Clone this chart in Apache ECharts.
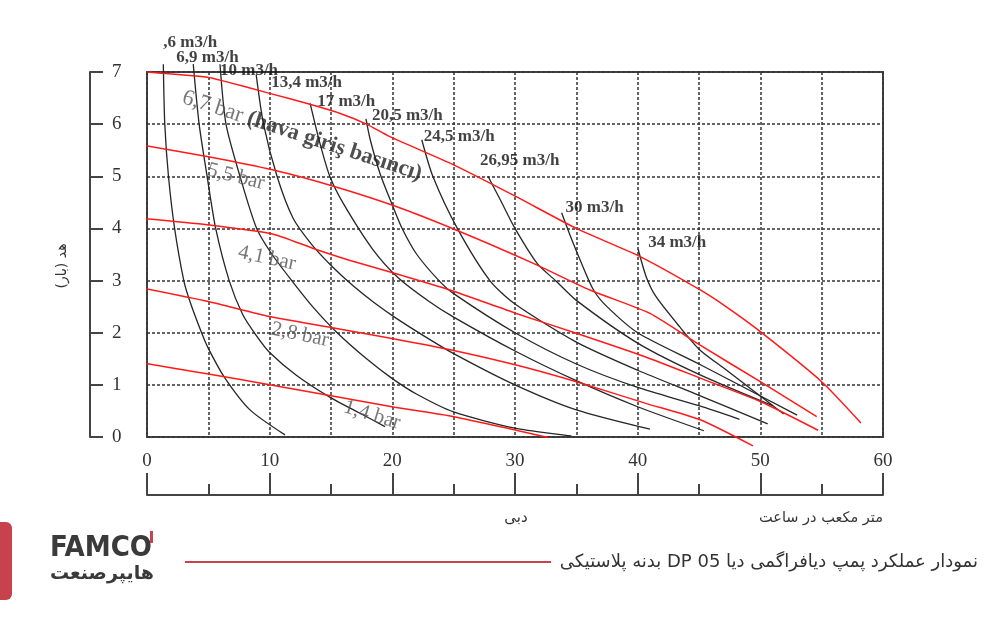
<!DOCTYPE html>
<html><head><meta charset="utf-8">
<script src="https://cdn.jsdelivr.net/npm/echarts/dist/echarts.min.js"></script>
<style>html,body{margin:0;padding:0;background:#fff}#c{width:1000px;height:620px}</style>
</head><body><div id="c"></div>
<script>
// ---- data ----
const xTicks = [0, 10, 20, 30, 40, 50, 60];
const yTicks = [0, 1, 2, 3, 4, 5, 6, 7];
const pressureNames = ['6,7 bar', '5,5 bar', '4,1 bar', '2,8 bar', '1,4 bar'];
const p67 = [[0,7.0],[4.9,6.9],[6.2,6.83],[10,6.59],[13,6.4],[15.7,6.21],[17.9,6.0],[19.8,5.76],[25,5.22],[30.1,4.61],[35,4.0],[40.2,3.46],[45.1,2.82],[47.2,2.5],[50,2.02],[55,1.06],[58.2,0.27]];
const p55 = [[-0.4,5.6],[4.9,5.38],[10.3,5.12],[15.2,4.81],[20.2,4.43],[25.2,3.97],[31.5,3.33],[36.1,2.82],[41,2.37],[45.1,1.76],[50,1.06],[54.6,0.39]];
const p41 = [[-0.8,4.2],[4.9,4.07],[10.3,3.89],[13.5,3.62],[16.5,3.39],[20.6,3.11],[24.7,2.82],[30.1,2.37],[35,1.99],[40.6,1.54],[45.1,1.13],[50,0.68],[54.7,0.13]];
const p28 = [[-0.2,2.85],[5,2.6],[10,2.31],[15,2.1],[20.2,1.88],[25,1.66],[30.1,1.38],[35,1.06],[40.6,0.65],[45.1,0.33],[49.4,-0.17]];
const p14 = [[-0.4,1.42],[5,1.21],[10,1.0],[15,0.79],[20.2,0.57],[25,0.39],[30.1,0.13],[32.7,-0.01]];

const flowNames = [',6 m3/h', '6,9 m3/h', '10 m3/h', '13,4 m3/h', '17 m3/h', '20,5 m3/h', '24,5 m3/h', '26,95 m3/h', '30 m3/h', '34 m3/h'];
const f36 = [[1.33,7.15],[1.45,6],[1.75,5],[2.25,4],[3.0,3],[3.5,2.6],[4.45,2],[5.0,1.7],[6.3,1.15],[8.4,0.52],[11.25,0.04]];
const f69 = [[3.77,7.15],[4.25,6],[4.9,5],[5.6,4],[6.7,3],[7.8,2.35],[8.9,1.95],[10,1.62],[12.2,1.18],[15,0.75],[17.4,0.45],[19.4,0.2]];
const f10 = [[5.95,7.15],[6.44,6],[7.58,5],[8.94,4],[10.2,3.5],[11.8,3.0],[13.5,2.5],[15.5,2.0],[17.9,1.5],[20,1.12],[22,0.82],[25,0.48],[30,0.17],[34.6,0.02]];
const f134 = [[8.9,6.95],[9.5,6],[10.6,5],[11.9,4.2],[13.4,3.7],[15.05,3.28],[16.8,2.9],[18.5,2.58],[20.3,2.28],[22.5,1.95],[25,1.6],[30,1.0],[35,0.52],[41,0.15]];
const f17 = [[13.3,6.4],[14.1,5.63],[14.9,5.0],[16,4.48],[18.4,3.6],[20.5,3.05],[23,2.6],[25,2.3],[30,1.65],[35,1.08],[40,0.58],[45.4,0.12]];
const f205 = [[17.85,6.1],[18.2,5.7],[19,5.05],[20.0,4.45],[20.8,4.0],[22,3.5],[23.8,3.0],[25,2.75],[30,2.0],[35,1.4],[40,0.95],[45,0.6],[48.3,0.34]];
const f245 = [[22.4,5.7],[23.3,5.0],[25.3,4.0],[27.95,3.0],[30,2.55],[35,1.82],[40,1.28],[45,0.8],[50.6,0.25]];
const f2695 = [[27.8,5.0],[28.8,4.55],[30,4.0],[31.8,3.33],[33.3,3.0],[35,2.62],[40,1.8],[45,1.2],[51,0.6]];
const f30 = [[33.8,4.3],[34.6,3.8],[35.3,3.4],[36.4,2.82],[37.5,2.5],[40,2.0],[45,1.4],[53,0.42]];
const f34 = [[40.04,3.6],[40.7,3.07],[41.5,2.69],[43.4,2.12],[45.07,1.67],[47.2,1.29],[49.7,0.84],[51.9,0.44]];

const pressureLabelPos = [[2.93,6.52],[7.25,4.99],[9.78,3.43],[12.47,1.96],[18.34,0.42]];

const xName1 = 'دبی';
const xName2 = 'متر مکعب در ساعت';
const yName = 'هد (بار)';
const title = 'نمودار عملکرد پمپ دیافراگمی دیا DP 05 بدنه پلاستیکی';

// ---- chart ----
const chart = echarts.init(document.getElementById('c'), null, {renderer: 'canvas'});
const SERIF = '"Liberation Serif", "DejaVu Serif", serif';
const FA = '"DejaVu Sans", sans-serif';
const pressures = [p67, p55, p41, p28, p14];
const flows = [f36, f69, f10, f134, f17, f205, f245, f2695, f30, f34];
const flowLabelOffset = [[0,-22],[-17,-7],[0,6],[15,8],[7,-2],[6,-3],[2,-3],[-8,-16],[4,-5],[10,-7]];
const pressureLabelRot = [-18, -14, -12, -12, -17];
const gridDash = {color: '#333', width: 1.5, type: [3, 2]};

const series = [];
pressures.forEach((d, i) => series.push({
  type: 'line', name: pressureNames[i], data: d, showSymbol: false, symbol: 'none', clip: false,
  smooth: 0.2, lineStyle: {color: '#ff1a1a', width: 1.5}, z: 3, silent: true
}));
flows.forEach((d, i) => series.push({
  type: 'line', name: flowNames[i], data: d, showSymbol: false, symbol: 'none', clip: false,
  smooth: 0.25, lineStyle: {color: '#262626', width: 1.3}, z: 2, silent: true
}));
series.push({
  type: 'scatter', symbolSize: 0, clip: false, silent: true, z: 5,
  data: flows.map((d, i) => ({
    value: d[0],
    label: {show: true, position: 'right', distance: 0, offset: flowLabelOffset[i], formatter: flowNames[i]}
  })),
  label: {fontFamily: SERIF, fontWeight: 'bold', fontSize: 17, color: '#111'}
});
series.push({
  type: 'scatter', symbolSize: 0, clip: false, silent: true, z: 5,
  data: pressureLabelPos.map((p, i) => ({
    value: p,
    label: i === 0 ? {
      show: true, position: 'right', distance: 0, rotate: pressureLabelRot[i], align: 'left', verticalAlign: 'middle',
      formatter: '{a|' + pressureNames[i] + ' }{b|(hava giriş basıncı)}',
      rich: {a: {fontFamily: SERIF, fontSize: 22.5, color: '#555'}, b: {fontFamily: SERIF, fontSize: 22.5, fontWeight: 'bold', color: '#222'}}
    } : {
      show: true, position: 'inside', rotate: pressureLabelRot[i], formatter: pressureNames[i],
      fontFamily: SERIF, fontSize: 21, color: '#555'
    }
  }))
});

chart.setOption({
  animation: false,
  backgroundColor: '#fff',
  grid: {left: 147, right: 117, top: 72, bottom: 183, show: true, borderColor: '#444', borderWidth: 2, outerBoundsMode: 'none', containLabel: false},
  xAxis: [{
    type: 'value', min: xTicks[0], max: xTicks[xTicks.length - 1], interval: 5, position: 'bottom',
    axisLine: {show: false, onZero: false}, axisTick: {show: false},
    axisLabel: {formatter: v => (xTicks.indexOf(v) >= 0 ? String(v) : ''), margin: 15, fontFamily: SERIF, fontSize: 19, color: '#333', showMinLabel: true, showMaxLabel: true},
    splitLine: {show: true, lineStyle: gridDash}
  }, {
    type: 'value', min: xTicks[0], max: xTicks[xTicks.length - 1], interval: 10, position: 'bottom', offset: 58,
    axisLine: {show: true, onZero: false, lineStyle: {color: '#444', width: 2}},
    axisTick: {show: true, inside: true, length: 22, lineStyle: {color: '#444', width: 2}},
    minorTick: {show: true, splitNumber: 2, length: 11, lineStyle: {color: '#444', width: 2}},
    axisLabel: {show: false}, splitLine: {show: false}
  }],
  yAxis: [{
    type: 'value', min: yTicks[0], max: yTicks[yTicks.length - 1], interval: 1,
    axisLine: {show: false, onZero: false}, axisTick: {show: false}, axisLabel: {show: false},
    splitLine: {show: true, lineStyle: gridDash}
  }, {
    type: 'value', min: yTicks[0], max: yTicks[yTicks.length - 1], interval: 1, position: 'left', offset: 57,
    axisLine: {show: true, onZero: false, lineStyle: {color: '#444', width: 2}},
    axisTick: {show: true, inside: true, length: 13, lineStyle: {color: '#444', width: 2}},
    axisLabel: {show: true, inside: true, margin: 22, fontFamily: SERIF, fontSize: 19, color: '#333'},
    splitLine: {show: false}
  }],
  graphic: [
    {type: 'text', x: 516, y: 518, style: {text: xName1, font: '15px ' + FA, fill: '#333', align: 'center', verticalAlign: 'middle'}},
    {type: 'text', x: 821, y: 518, style: {text: xName2, font: '14.5px ' + FA, fill: '#333', align: 'center', verticalAlign: 'middle'}},
    {type: 'text', x: 62, y: 266, rotation: Math.PI / 2, style: {text: yName, font: '14px ' + FA, fill: '#333', align: 'center', verticalAlign: 'middle'}},
    {type: 'rect', shape: {x: -10, y: 522, width: 22, height: 78, r: 6}, style: {fill: '#c7424c'}},
    {type: 'text', x: 50, y: 548, style: {text: 'FAMCO', font: 'bold 29px "DejaVu Sans Condensed", "DejaVu Sans", sans-serif', fill: '#3a3a3a', verticalAlign: 'middle'}},
    {type: 'rect', shape: {x: 150, y: 531, width: 3, height: 12}, style: {fill: '#c7424c'}},
    {type: 'text', x: 50, y: 574, style: {text: 'هایپرصنعت', font: 'bold 19px ' + FA, fill: '#3a3a3a', verticalAlign: 'middle'}},
    {type: 'line', shape: {x1: 185, y1: 562, x2: 551, y2: 562}, style: {stroke: '#c7424c', lineWidth: 2}},
    {type: 'text', x: 978, y: 562, style: {text: '\u202B' + title + '\u202C', font: '18px ' + FA, fill: '#333', align: 'right', verticalAlign: 'middle'}}
  ],
  series: series
});
</script></body></html>
